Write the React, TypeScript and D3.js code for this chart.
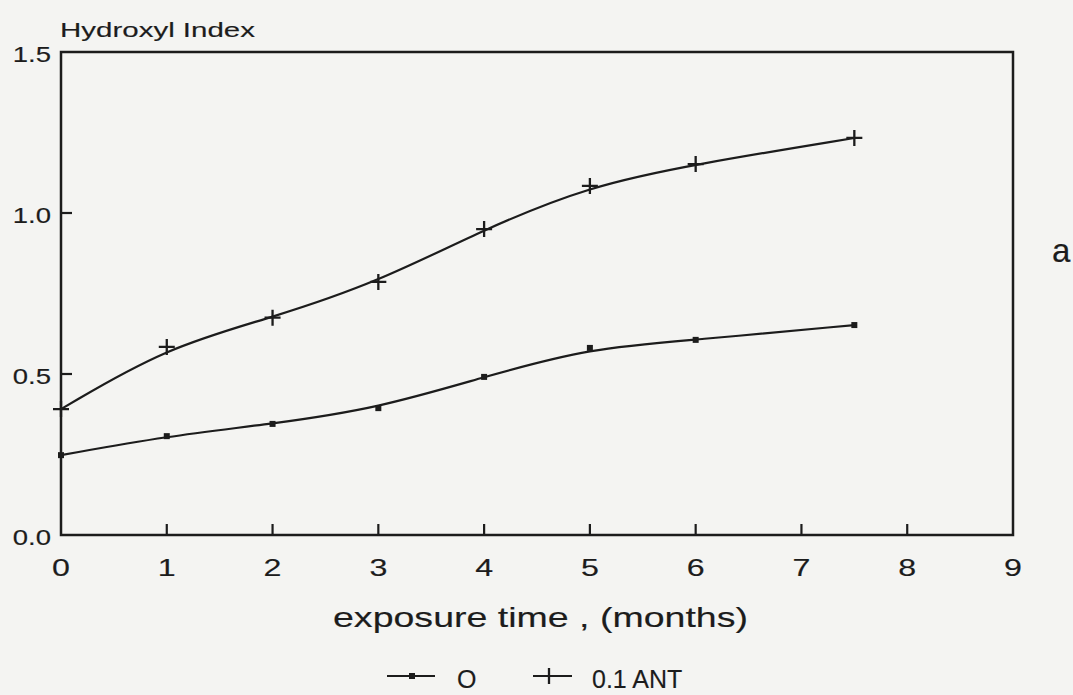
import React from 'react';
import * as d3 from 'd3';

// ---- data ----
const months = [0, 1, 2, 3, 4, 5, 6, 7.5];
const control = [0.248, 0.307, 0.345, 0.394, 0.491, 0.581, 0.606, 0.652];
const ant = [0.391, 0.584, 0.675, 0.786, 0.95, 1.084, 1.152, 1.233];
const xTicks = [0, 1, 2, 3, 4, 5, 6, 7, 8, 9];
const yTicks = [0, 0.5, 1.0, 1.5];
const seriesNames = ['O', '0.1 ANT'];
const yTitle = 'Hydroxyl Index';
const xTitle = 'exposure time , (months)';
const panelLabel = 'a';

const INK = '#1c1c1c';
const FONT = '"Liberation Sans", Arial, Helvetica, sans-serif';

export default function App() {
  const W = 1073;
  const H = 695;
  const x = d3.scaleLinear().domain([0, 9]).range([61, 1013]);
  const y = d3.scaleLinear().domain([0, 1.5]).range([535, 52]);

  const line = d3
    .line<number>()
    .x((_, i) => x(months[i]))
    .y((d) => y(d))
    .curve(d3.curveBasis);

  const plus = (cx: number, cy: number, key: string) => (
    <path
      key={key}
      d={`M${cx - 8},${cy}H${cx + 8}M${cx},${cy - 8}V${cy + 8}`}
      stroke={INK}
      strokeWidth={2.3}
      fill="none"
    />
  );
  const dot = (cx: number, cy: number, key: string) => (
    <rect key={key} x={cx - 3} y={cy - 3} width={6} height={6} fill={INK} />
  );

  const [x0, x1] = x.range();
  const [yb, yt] = y.range();

  const textStyle = { stroke: INK, strokeWidth: 0.15, paintOrder: 'stroke' as const };

  return (
    <svg
      width={W}
      height={H}
      viewBox={`0 0 ${W} ${H}`}
      style={{ position: 'absolute', left: 0, top: 0, background: '#f4f4f2' }}
      fontFamily={FONT}
    >
      <rect x={0} y={0} width={W} height={H} fill="#f4f4f2" />

      {/* frame */}
      <rect
        x={x0}
        y={yt}
        width={x1 - x0}
        height={yb - yt}
        fill="none"
        stroke={INK}
        strokeWidth={2.5}
      />

      {/* y ticks and labels */}
      {yTicks.map((v) => (
        <g key={`y${v}`}>
          {v > 0 && v < 1.5 && (
            <line x1={x0} x2={x0 + 11} y1={y(v)} y2={y(v)} stroke={INK} strokeWidth={2.2} />
          )}
          <text
            transform={`translate(51,${y(v) + 10}) scale(1.25,1)`}
            textAnchor="end"
            fontSize={22}
            fill={INK}
            style={textStyle}
          >
            {v.toFixed(1)}
          </text>
        </g>
      ))}

      {/* x ticks and labels */}
      {xTicks.map((v) => (
        <g key={`x${v}`}>
          {v > 0 && v < 9 && (
            <line x1={x(v)} x2={x(v)} y1={yb} y2={yb - 11} stroke={INK} strokeWidth={2.2} />
          )}
          <text
            transform={`translate(${x(v)},576) scale(1.4,1)`}
            textAnchor="middle"
            fontSize={23}
            fill={INK}
            style={textStyle}
          >
            {v}
          </text>
        </g>
      ))}

      {/* series lines */}
      <path d={line(control) || ''} fill="none" stroke={INK} strokeWidth={2.2} />
      <path d={line(ant) || ''} fill="none" stroke={INK} strokeWidth={2.2} />

      {/* markers */}
      {control.map((v, i) => dot(x(months[i]), y(v), `c${i}`))}
      {ant.map((v, i) => plus(x(months[i]), y(v), `a${i}`))}

      {/* titles */}
      <text
        x={60}
        y={37}
        fontSize={21}
        fill={INK}
        textLength={195}
        lengthAdjust="spacingAndGlyphs"
        style={textStyle}
      >
        {yTitle}
      </text>
      <text
        x={333}
        y={627}
        fontSize={28}
        fill={INK}
        textLength={415}
        lengthAdjust="spacingAndGlyphs"
        style={textStyle}
      >
        {xTitle}
      </text>
      <text x={1052} y={262} fontSize={33} fill={INK} style={textStyle}>
        {panelLabel}
      </text>

      {/* legend */}
      <line x1={387} x2={435} y1={676} y2={676} stroke={INK} strokeWidth={2.2} />
      {dot(412, 676, 'ld')}
      <text x={457} y={688} fontSize={25} fill={INK} style={textStyle}>
        {seriesNames[0]}
      </text>
      <line x1={533} x2={572} y1={676} y2={676} stroke={INK} strokeWidth={2.2} />
      <path d={`M549,668V684`} stroke={INK} strokeWidth={2.3} />
      <text x={592} y={688} fontSize={25} fill={INK} style={textStyle}>
        {seriesNames[1]}
      </text>
    </svg>
  );
}
